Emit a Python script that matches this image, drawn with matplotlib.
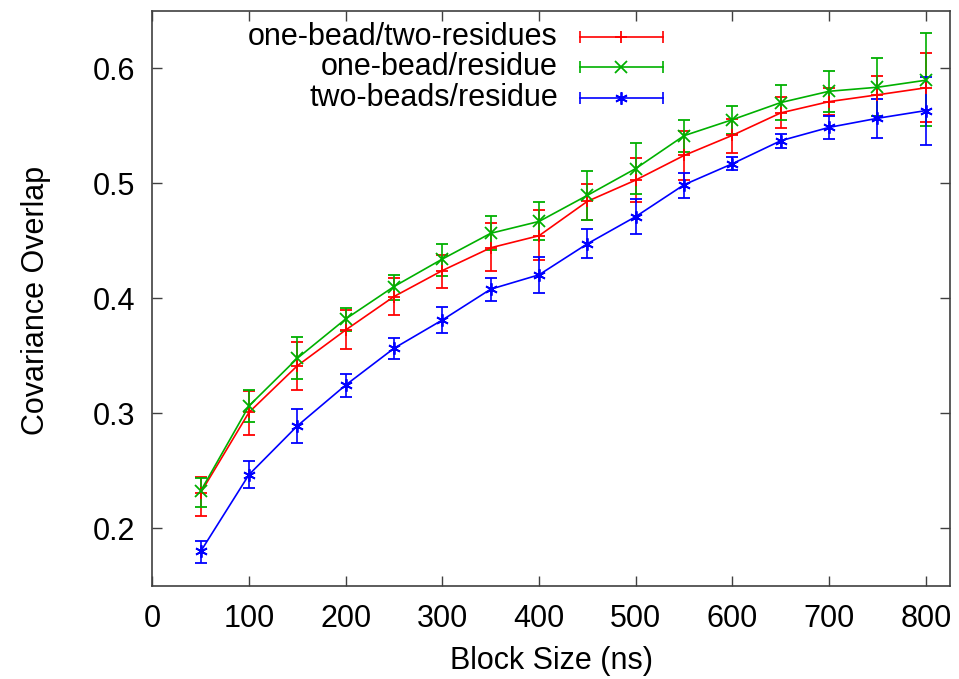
import matplotlib
matplotlib.use("Agg")
import matplotlib.pyplot as plt
import numpy as np

plt.rcParams['font.family'] = ['Liberation Sans', 'DejaVu Sans']

block_size = [50, 100, 150, 200, 250, 300, 350, 400, 450, 500, 550, 600, 650, 700, 750, 800]

red_y = [0.231, 0.301, 0.3415, 0.3726, 0.4017, 0.4243, 0.4441, 0.4546, 0.4845, 0.503, 0.5244, 0.5419, 0.5614, 0.5712, 0.5771, 0.5832]
red_lo = [0.2107, 0.2813, 0.3206, 0.3558, 0.3854, 0.4095, 0.4235, 0.4337, 0.4679, 0.4836, 0.503, 0.5265, 0.548, 0.5596, 0.559, 0.5532]
red_hi = [0.2447, 0.3192, 0.362, 0.390, 0.4182, 0.438, 0.4653, 0.477, 0.4996, 0.5224, 0.546, 0.556, 0.575, 0.583, 0.5939, 0.6131]

green_y = [0.2325, 0.3066, 0.348, 0.3822, 0.4104, 0.4343, 0.4567, 0.467, 0.4897, 0.513, 0.5416, 0.5555, 0.5704, 0.5802, 0.5837, 0.5898]
green_lo = [0.219, 0.2924, 0.3297, 0.372, 0.399, 0.4197, 0.4424, 0.4505, 0.4679, 0.4908, 0.5274, 0.5433, 0.555, 0.5622, 0.5584, 0.5497]
green_hi = [0.2439, 0.320, 0.3665, 0.392, 0.4206, 0.4476, 0.472, 0.484, 0.5106, 0.5352, 0.5555, 0.5677, 0.5858, 0.5977, 0.6087, 0.6305]

blue_y = [0.180, 0.2468, 0.2892, 0.3247, 0.3567, 0.3813, 0.4081, 0.4206, 0.4476, 0.4712, 0.4989, 0.5172, 0.5372, 0.5488, 0.5567, 0.5634]
blue_lo = [0.170, 0.2349, 0.2747, 0.314, 0.3473, 0.3703, 0.3982, 0.4046, 0.4351, 0.4561, 0.4873, 0.5117, 0.5311, 0.5387, 0.5396, 0.5337]
blue_hi = [0.1895, 0.2587, 0.3037, 0.3345, 0.3654, 0.3927, 0.4177, 0.4365, 0.46, 0.4867, 0.5093, 0.5227, 0.5431, 0.5584, 0.5736, 0.5928]

labels = ["one-bead/two-residues", "one-bead/residue", "two-beads/residue"]
colors = ["#ff0000", "#00b000", "#0000ff"]
markers = ["+", "x", (6, 2, 0)]

x_ticks = [0, 100, 200, 300, 400, 500, 600, 700, 800]
y_ticks = [0.2, 0.3, 0.4, 0.5, 0.6]

fig = plt.figure(figsize=(9.59, 6.79), dpi=100)
ax = fig.add_axes([0.1588, 0.137, 0.9906 - 0.1588, 0.9838 - 0.137])

series = [(red_y, red_lo, red_hi), (green_y, green_lo, green_hi), (blue_y, blue_lo, blue_hi)]
for (y, lo, hi), c, m in zip(series, colors, markers):
    y = np.array(y); lo = np.array(lo); hi = np.array(hi)
    ax.errorbar(block_size, y, yerr=[y - lo, hi - y], color=c, lw=1.2,
                marker=m, markersize=9, markeredgewidth=1.3,
                capsize=4, capthick=1.2, elinewidth=1.2)

ax.set_xlim(0, 825)
ax.set_ylim(0.15, 0.65)
ax.set_xticks(x_ticks)
ax.set_yticks(y_ticks)
ax.set_yticklabels([f"{v:.1f}" for v in y_ticks])
ax.tick_params(direction='in', length=7, width=1, colors='#404040',
               labelcolor='black', labelsize=22, top=True, right=True)
ax.tick_params(axis='x', pad=13)
ax.tick_params(axis='y', pad=12)
for s in ax.spines.values():
    s.set_color('#404040')
    s.set_linewidth(1.2)

ax.set_xlabel("Block Size (ns)", fontsize=22, va='center')
ax.xaxis.set_label_coords(0.5, -0.130)
ax.set_ylabel("Covariance Overlap", fontsize=22, va='center')
ax.yaxis.set_label_coords(-0.1460, 0.497)

# gnuplot-style key
w = 797.7; h = 575.0
x0 = (580 - 152.3) / w
x1 = (663 - 152.3) / w
xm = (x0 + x1) / 2
xt = (558 - 152.3) / w
key_y = [(586 - 36.7) / h, (586 - 67) / h, (586 - 98) / h]
for lab, c, m, ky in zip(labels, colors, markers, key_y):
    ax.plot([x0, x1], [ky, ky], color=c, lw=1.2, transform=ax.transAxes, clip_on=False)
    ax.plot([x0, x1], [ky, ky], ls='none', marker='|', markersize=8, mew=1.2,
            color=c, transform=ax.transAxes, clip_on=False)
    ax.plot([xm], [ky], ls='none', marker=m, markersize=9, mew=1.3,
            color=c, transform=ax.transAxes, clip_on=False)
    ax.text(xt, ky, lab, transform=ax.transAxes, ha='right', va='center', fontsize=22)

fig.savefig("out.png", dpi=100)
